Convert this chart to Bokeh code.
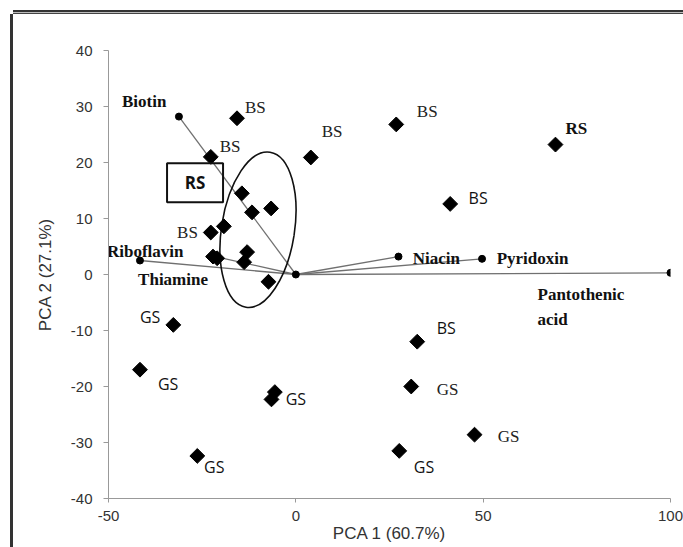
from bokeh.plotting import figure
from bokeh.models import Range1d, FixedTicker, PrintfTickFormatter
from bokeh.core.properties import value
from bokeh.embed import file_html
from bokeh.resources import INLINE

# ---- sample scores (PCA 1, PCA 2) ----
sample_x = [-15.7, -22.7, 4.0, -14.4, -11.7, -6.6, -19.2, -22.7, -13.0, -22.1, -21.0,
            -13.8, -7.3, 26.8, 69.3, 41.2, 32.4, -32.7, -41.6, -5.6, -6.5, -26.3,
            30.8, 47.7, 27.6]
sample_y = [27.9, 21.0, 20.9, 14.5, 11.1, 11.8, 8.6, 7.5, 4.0, 3.2, 2.9,
            2.2, -1.3, 26.8, 23.2, 12.6, -12.0, -9.0, -17.0, -21.0, -22.3, -32.4,
            -20.0, -28.6, -31.5]

# ---- sample group labels ----
serif_text = ["BS", "BS", "BS", "BS", "BS", "GS", "GS"]
serif_x = [-13.6, -20.3, 6.9, -31.7, 32.3, 37.6, 53.9]
serif_y = [29.8, 22.9, 25.5, 7.5, 29.1, -20.5, -28.9]

bold_serif_text = ["RS"]
bold_serif_x = [72.0]
bold_serif_y = [26.1]

sans_text = ["BS", "BS", "GS", "GS", "GS", "GS", "GS"]
sans_x = [46.1, 37.6, -41.6, -36.8, -2.7, -24.5, 31.5]
sans_y = [13.6, -9.6, -7.5, -19.6, -22.3, -34.3, -34.3]

# ---- vitamin loading vectors ----
vec_names = ["Biotin", "Riboflavin", "Thiamine", "Niacin", "Pyridoxin", "Pantothenic\nacid"]
vec_x = [-31.2, -41.6, -21.5, 27.4, 49.7, 100.0]
vec_y = [28.2, 2.5, 3.2, 3.2, 2.8, 0.3]
vec_label_x = [-46.4, -50.4, -42.1, 31.2, 53.6, 64.5]
vec_label_y = [30.9, 4.1, -0.9, 2.9, 2.9, -5.8]

# ---- annotations ----
box_text = ["RS"]
box_x = [-26.9]
box_y = [16.4]
ellipse_x = [-10.1]
ellipse_y = [8.0]

x_ticks = [-50, 0, 50, 100]
y_ticks = [-40, -30, -20, -10, 0, 10, 20, 30, 40]

p = figure(width=670, height=533, output_backend="svg", toolbar_location=None,
           x_range=Range1d(-50, 100), y_range=Range1d(-40, 40),
           min_border_left=95, min_border_right=13, min_border_top=36, min_border_bottom=49,
           background_fill_color="white", border_fill_color="white",
           styles={"position": "absolute", "left": "0px", "top": "0px",
                   "margin-left": "13px", "margin-top": "14px",
                   "box-shadow": "0 -1px 0 0 #444444, 0 -2px 0 0 #bbbbbb, "
                                 "0 -4px 0 0 #333333, -3px 0 0 0 #333333"})
p.outline_line_color = None
p.grid.visible = False

for ax in (p.xaxis[0], p.yaxis[0]):
    ax.axis_line_color = "#999999"
    ax.major_tick_line_color = "#999999"
    ax.minor_tick_line_color = None
    ax.major_tick_in = 0
    ax.formatter = PrintfTickFormatter(format="%d")
    ax.major_label_text_font = "Liberation Sans"
    ax.major_label_text_font_size = "15px"
    ax.major_label_text_color = "#333333"
    ax.axis_label_text_font = "Liberation Sans"
    ax.axis_label_text_font_size = "17px"
    ax.axis_label_text_font_style = "normal"
    ax.axis_label_text_color = "#333333"

p.xaxis.ticker = FixedTicker(ticks=x_ticks)
p.yaxis.ticker = FixedTicker(ticks=y_ticks)
p.xaxis.axis_label = "PCA 1 (60.7%)"
p.yaxis.axis_label = "PCA 2 (27.1%)"
p.xaxis.major_tick_out = 4
p.yaxis.major_tick_out = 5
p.xaxis.major_label_standoff = 8
p.yaxis.major_label_standoff = 11
p.xaxis.axis_label_standoff = 0
p.yaxis.axis_label_standoff = 13

# loading vectors
p.segment(x0=[0] * len(vec_x), y0=[0] * len(vec_y), x1=vec_x, y1=vec_y,
          line_color="#707070", line_width=1.3)
p.scatter(vec_x + [0], vec_y + [0], size=7, color="black")

# ellipse
p.ellipse(x=ellipse_x, y=ellipse_y, width=73, height=157, width_units="screen",
          height_units="screen", angle=-0.154, fill_alpha=0, line_color="#111111", line_width=1.6)

# sample scores
p.scatter(sample_x, sample_y, marker="square", angle=0.785, size=10.5, color="black")

# labels
p.text(vec_label_x, vec_label_y, text=vec_names, text_font=value("Liberation Serif"),
       text_font_style="bold", text_font_size="17px", text_baseline="middle",
       text_align="left", text_color="#111111", text_line_height=1.3)
p.text(serif_x, serif_y, text=serif_text, text_font=value("Liberation Serif"),
       text_font_size="17px", text_baseline="middle", text_align="left", text_color="#222222")
p.text(bold_serif_x, bold_serif_y, text=bold_serif_text, text_font=value("Liberation Serif"),
       text_font_style="bold", text_font_size="17px", text_baseline="middle", text_align="left",
       text_color="#111111")
p.text(sans_x, sans_y, text=sans_text, text_font=value("Open Sans"),
       text_font_size="16px", text_baseline="middle", text_align="left", text_color="#111111")

# RS box
p.rect(x=box_x, y=box_y, width=56, height=39, width_units="screen", height_units="screen",
       fill_alpha=0, line_color="#111111", line_width=2)
p.text(box_x, box_y, text=box_text, text_font=value("Open Sans"), text_font_style="bold",
       text_font_size="17px", text_baseline="middle", text_align="center", text_color="#111111")

open("out.html", "w").write(file_html(p, INLINE))
